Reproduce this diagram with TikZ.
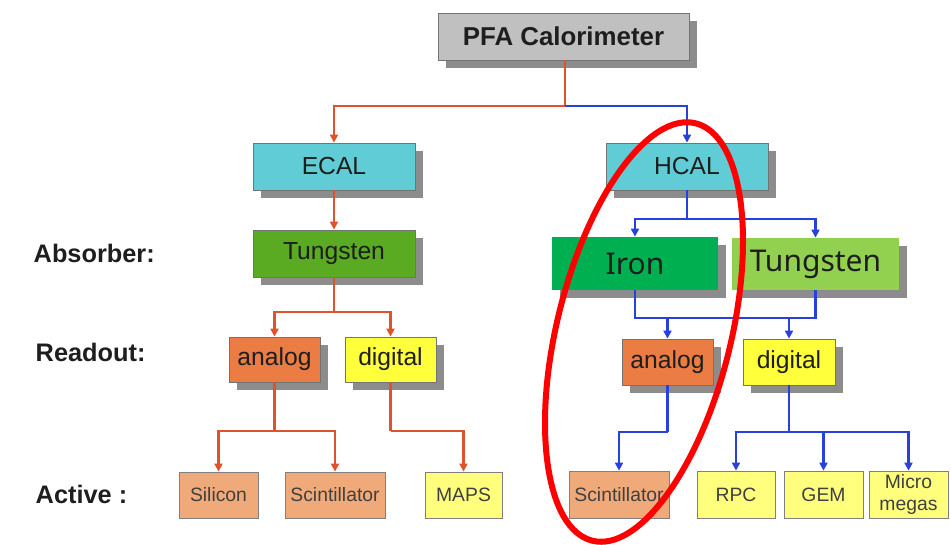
\documentclass[tikz,border=0pt]{standalone}
\usepackage{fontspec}
\setmainfont{Liberation Sans}
\newfontfamily\hfont{Noto Sans}
\usetikzlibrary{arrows.meta,shadows}
\definecolor{cgray}{RGB}{192,192,192}
\definecolor{ccyan}{RGB}{96,204,214}
\definecolor{cgreenE}{RGB}{90,170,34}
\definecolor{ciron}{RGB}{0,176,80}
\definecolor{ctungH}{RGB}{146,208,80}
\definecolor{corange}{RGB}{234,124,68}
\definecolor{cyell}{RGB}{255,255,60}
\definecolor{clorange}{RGB}{240,170,122}
\definecolor{clyell}{RGB}{255,255,125}
\definecolor{olin}{RGB}{222,82,44}
\definecolor{blin}{RGB}{40,64,222}
\definecolor{txt}{RGB}{30,30,30}
\tikzset{
  bx/.style={draw=black!55, line width=0.6pt, inner sep=0pt, text=txt,
    drop shadow={shadow xshift=6pt, shadow yshift=-6pt, fill=black!45, opacity=1}},
  sbx/.style={draw=black!50, line width=0.6pt, inner sep=0pt, text=black!75},
  oline/.style={draw=olin, line width=2.2pt},
  bline/.style={draw=blin, line width=2.2pt},
  tip/.style={-{Triangle[length=6pt,width=6pt]}},
  lbl/.style={anchor=west, font=\bfseries\fontsize{19}{22}\selectfont, text=txt},
  big/.style={font=\fontsize{18.5}{22}\selectfont},
  sml/.style={font=\fontsize{14.5}{16}\selectfont},
  hf/.style={font=\hfont\fontsize{22.5}{26}\selectfont}
}
\begin{document}
\begin{tikzpicture}[x=0.75pt,y=-0.75pt]
\useasboundingbox (0,0) rectangle (951,544);
% top
\node[bx, fill=cgray, minimum width=251*0.75pt, minimum height=47*0.75pt,
  font=\bfseries\fontsize{19.4}{22}\selectfont] (pfa) at (563.5,36.5) {PFA Calorimeter};
\node[bx, fill=ccyan, big, minimum width=162*0.75pt, minimum height=47*0.75pt] (ecal) at (334,166.5) {ECAL};
\node[bx, fill=ccyan, big, minimum width=162*0.75pt, minimum height=47*0.75pt] (hcal) at (687,166.5) {HCAL};
% absorbers
\node[bx, fill=cgreenE, big, minimum width=162*0.75pt, minimum height=47*0.75pt] (tungE) at (334,253.5) {Tungsten};
\node[bx, fill=ciron, hf, draw=none, minimum width=166*0.75pt, minimum height=53*0.75pt] (iron) at (635,263.5) {Iron};
\node[bx, fill=ctungH, hf, draw=none, minimum width=167*0.75pt, minimum height=52*0.75pt] (tungH) at (815.5,264) {Tungsten};
% readout
\node[bx, fill=corange, big, minimum width=91*0.75pt, minimum height=45*0.75pt] (anaE) at (274.5,359.5) {analog};
\node[bx, fill=cyell, big, minimum width=91*0.75pt, minimum height=45*0.75pt] (digE) at (390.5,359.5) {digital};
\node[bx, fill=corange, big, minimum width=91*0.75pt, minimum height=46*0.75pt] (anaH) at (667.5,362) {analog};
\node[bx, fill=cyell, big, minimum width=92*0.75pt, minimum height=46*0.75pt] (digH) at (789,362) {digital};
% active
\node[sbx, fill=clorange, sml, minimum width=79*0.75pt, minimum height=46*0.75pt] (sil) at (218.5,495) {Silicon};
\node[sbx, fill=clorange, sml, minimum width=100*0.75pt, minimum height=46*0.75pt] (scE) at (335,495) {Scintillator};
\node[sbx, fill=clyell, sml, minimum width=77*0.75pt, minimum height=46*0.75pt] (maps) at (463.5,495) {MAPS};
\node[sbx, fill=clorange, sml, minimum width=100*0.75pt, minimum height=47*0.75pt] (scH) at (619,494.5) {Scintillator};
\node[sbx, fill=clyell, sml, minimum width=78*0.75pt, minimum height=47*0.75pt] (rpc) at (736,494.5) {RPC};
\node[sbx, fill=clyell, sml, minimum width=79*0.75pt, minimum height=47*0.75pt] (gem) at (823.5,494.5) {GEM};
\node[sbx, fill=clyell, sml, minimum width=79*0.75pt, minimum height=47*0.75pt, align=center] (mic) at (908.5,494.5) {Micro\\megas};
% labels
\node[lbl] (la) at (29,253) {Absorber:};
\node[lbl] (lr) at (31,352) {Readout:};
\node[lbl] (lc) at (31,494) {Active :};
% connectors
\coordinate (j0) at (565,106);
\coordinate (j1) at (0,312);
\coordinate (j2) at (0,431);
\coordinate (j3) at (0,219);
\coordinate (j4) at (0,318);
\coordinate (j5) at (0,432);
\draw[oline] (j0 |- pfa.south) -- (j0);
\draw[oline, tip] (j0) -| (ecal.north);
\draw[bline, tip] (j0) -| (hcal.north);
\draw[oline, tip] (ecal.south) -- (tungE.north);
% ECAL tree
\draw[oline] (tungE.south) -- (tungE.south |- j1);
\draw[oline, tip] (tungE.south |- j1) -| (anaE.north);
\draw[oline, tip] (tungE.south |- j1) -| (digE.north);
\draw[oline] (anaE.south) -- (anaE.south |- j2);
\draw[oline, tip] (anaE.south |- j2) -| (sil.north);
\draw[oline, tip] (anaE.south |- j2) -| (scE.north);
\draw[oline] (digE.south) -- (digE.south |- j2);
\draw[oline, tip] (digE.south |- j2) -| (maps.north);
% HCAL tree
\draw[bline] (hcal.south) -- (hcal.south |- j3);
\draw[bline, tip] (hcal.south |- j3) -| (iron.north);
\draw[bline, tip] (hcal.south |- j3) -| (tungH.north);
\draw[bline] (iron.south) -- (iron.south |- j4) -- (tungH.south |- j4) -- (tungH.south);
\draw[bline, tip] (anaH.north |- j4) -- (anaH.north);
\draw[bline, tip] (digH.north |- j4) -- (digH.north);
\draw[bline] (anaH.south) -- (anaH.south |- j5);
\draw[bline, tip] (anaH.south |- j5) -| (scH.north);
\draw[bline] (digH.south) -- (digH.south |- j5);
\draw[bline, tip] (digH.south |- j5) -| (rpc.north);
\draw[bline, tip] (digH.south |- j5) -| (mic.north);
\draw[bline, tip] (gem.north |- j5) -- (gem.north);
% red ellipse
\draw[red, line width=4.5pt] (644,332) ellipse[x radius=87, y radius=215, rotate=-13.9];
\end{tikzpicture}
\end{document}
